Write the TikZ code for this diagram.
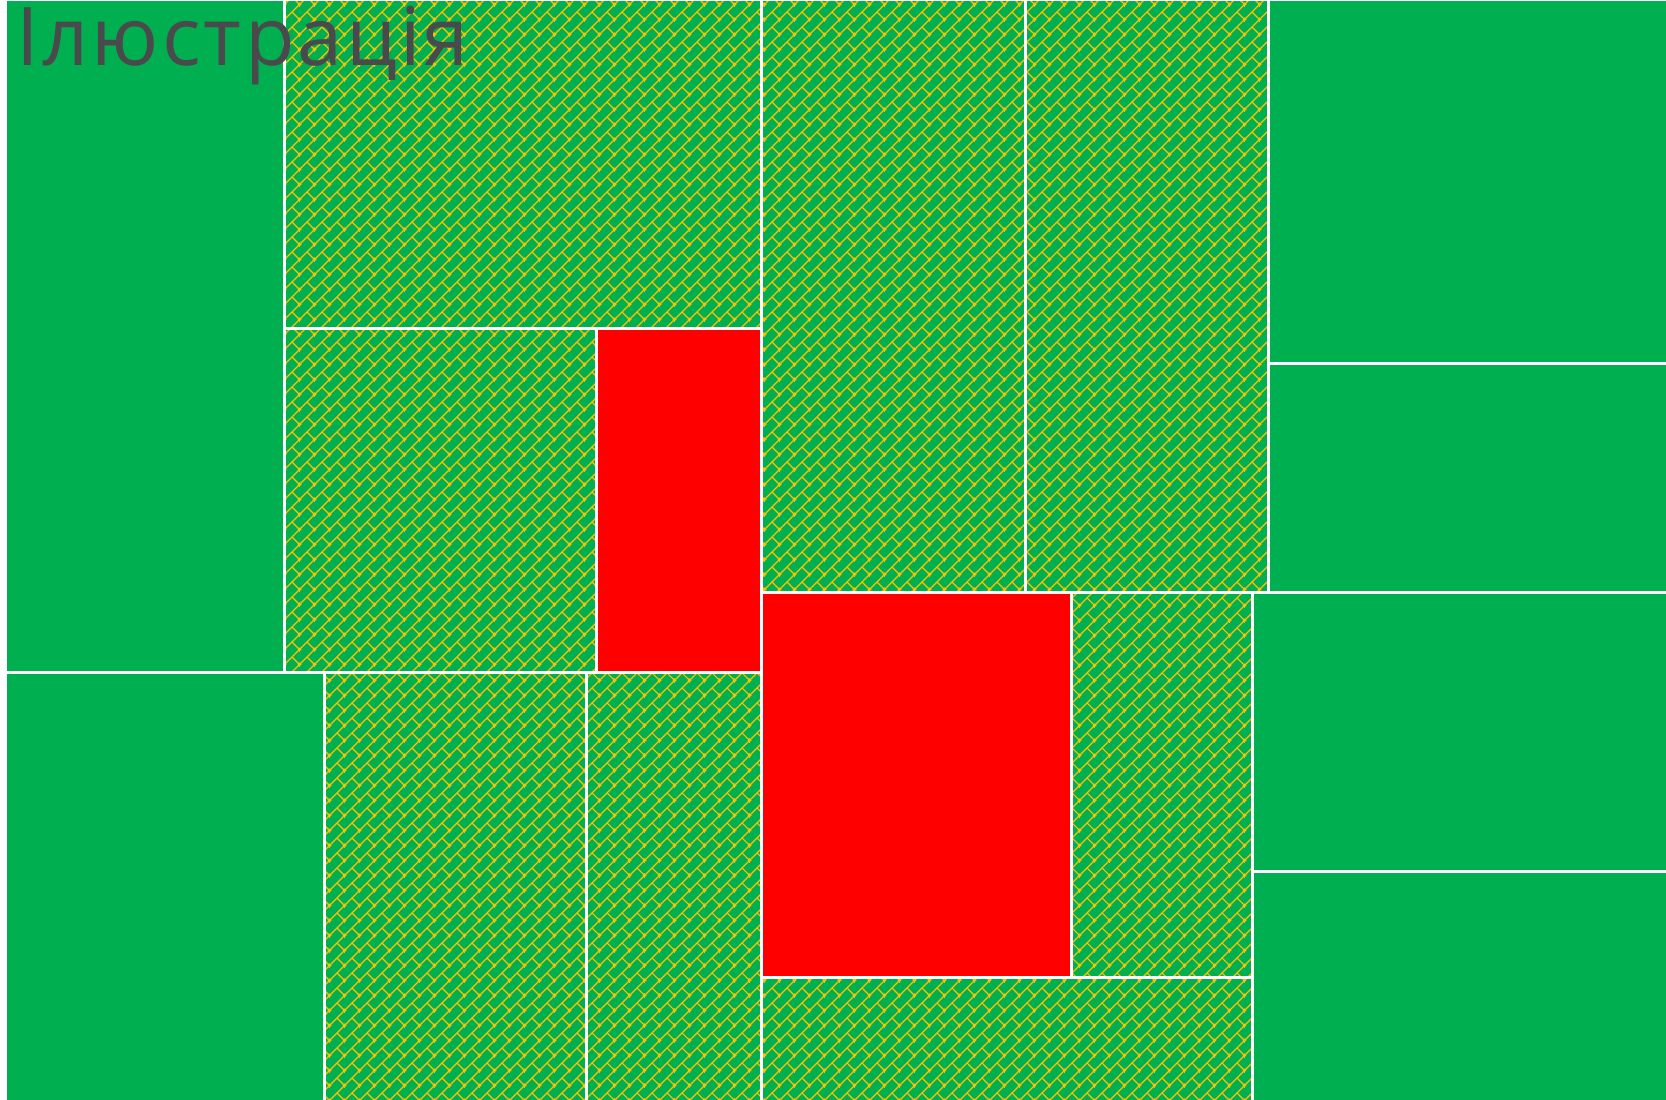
\documentclass[tikz,border=0pt]{standalone}
\usepackage{fontspec}
\setmainfont{Carlito}
\newfontfamily\titlefont[LetterSpace=4]{Open Sans}
\usetikzlibrary{patterns.meta}
\definecolor{gr}{HTML}{00B050}
\definecolor{brickyellow}{HTML}{FFC000}
\definecolor{rd}{HTML}{FF0000}
\definecolor{txt}{HTML}{4A4A4C}
\tikzdeclarepattern{
  name=diagbrick,
  type=colored,
  bottom left={(0pt,0pt)},
  top right={(7.5pt,7.5pt)},
  tile size={(7.5pt,7.5pt)},
  code={
    \foreach \dx in {-1,0,1} {
      \foreach \dy in {-1,0,1} {
        \draw[line width=0.65pt, draw=brickyellow] ({\dx*7.5pt},{\dy*7.5pt}) -- ++(7.5pt,7.5pt);
        \draw[line width=0.65pt, draw=brickyellow] ({\dx*7.5pt+3.75pt},{\dy*7.5pt+3.75pt}) -- ++(3.75pt,-3.75pt);
      }
    }
  }
}
\tikzset{
  outline/.style={draw=white, line width=1.5pt},
}
\newcommand{\greenrect}[4]{\fill[gr] (#1,#2) rectangle (#3,#4);}
\newcommand{\redrect}[4]{\fill[rd] (#1,#2) rectangle (#3,#4);}
\newcommand{\hatchrect}[4]{\fill[gr] (#1,#2) rectangle (#3,#4);\fill[pattern=diagbrick] (#1,#2) rectangle (#3,#4);}
\newcommand{\outlinerect}[4]{\draw[outline] (#1,#2) rectangle (#3,#4);}
\begin{document}
\begin{tikzpicture}[x=0.5pt,y=-0.5pt]
\useasboundingbox (0,0) rectangle (1666,1099);
\fill[white] (0,0) rectangle (1666,1099);
\begin{scope}
\clip (0,0) rectangle (1666,1099);
% fills
\greenrect{5}{-1}{284}{672}
\hatchrect{284}{-1}{761}{328.5}
\hatchrect{284}{328.5}{596}{672}
\redrect{596}{328.5}{761}{672}
\hatchrect{761}{-1}{1025}{592.5}
\hatchrect{1025}{-1}{1268}{592.5}
\greenrect{1268}{-1}{1672}{363.5}
\greenrect{1268}{363.5}{1672}{592.5}
\greenrect{5}{672}{324.5}{1104}
\hatchrect{324.5}{672}{586}{1104}
\hatchrect{586}{672}{761}{1104}
\redrect{761}{592.5}{1071}{977}
\hatchrect{1071}{592.5}{1252}{977}
\hatchrect{761}{977}{1252}{1104}
\greenrect{1252}{592.5}{1672}{871}
\greenrect{1252}{871}{1672}{1104}
% outlines
\outlinerect{5}{-1}{284}{672}
\outlinerect{284}{-1}{761}{328.5}
\outlinerect{284}{328.5}{596}{672}
\outlinerect{596}{328.5}{761}{672}
\outlinerect{761}{-1}{1025}{592.5}
\outlinerect{1025}{-1}{1268}{592.5}
\outlinerect{1268}{-1}{1672}{363.5}
\outlinerect{1268}{363.5}{1672}{592.5}
\outlinerect{5}{672}{324.5}{1104}
\outlinerect{324.5}{672}{586}{1104}
\outlinerect{586}{672}{761}{1104}
\outlinerect{761}{592.5}{1071}{977}
\outlinerect{1071}{592.5}{1252}{977}
\outlinerect{761}{977}{1252}{1104}
\outlinerect{1252}{592.5}{1672}{871}
\outlinerect{1252}{871}{1672}{1104}
\end{scope}
\node[anchor=base west, inner sep=0pt, text=txt, font=\titlefont\fontsize{40.5pt}{45pt}\selectfont] (title) at (16,65) {Ілюстрація};
\end{tikzpicture}
\end{document}
